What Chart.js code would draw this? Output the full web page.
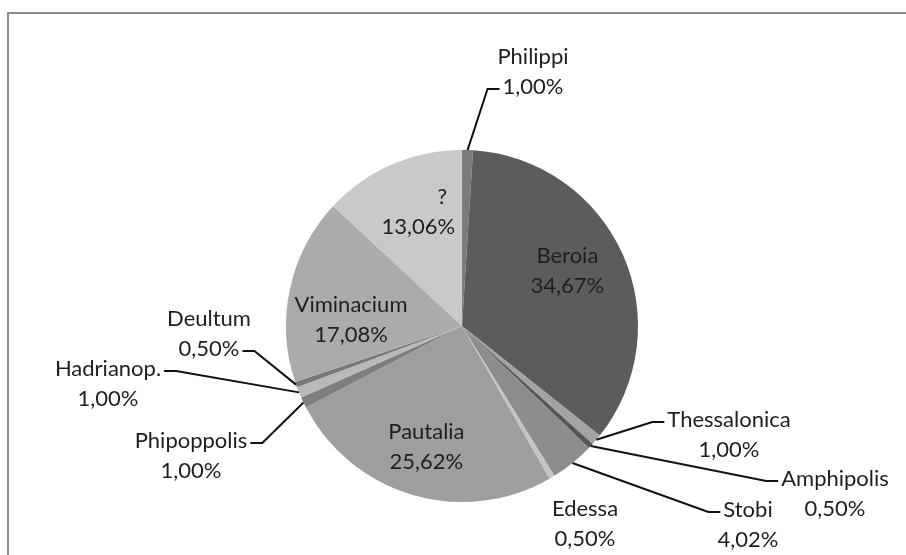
<!DOCTYPE html>
<html>
<head>
<meta charset="utf-8">
<script src="https://cdn.jsdelivr.net/npm/chart.js@4.4.1/dist/chart.umd.min.js"></script>
<style>
    html, body { margin: 0; padding: 0; background: #fff; overflow: hidden; }
    #wrap { position: relative; width: 906px; height: 555px; overflow: hidden; }
    #frame { position: absolute; left: 7px; top: 12px; width: 1000px; height: 1000px;
             border-left: 2px solid #8c8c8c; border-top: 2px solid #8c8c8c; }
    canvas { position: absolute; left: 0; top: 0; }
</style>
</head>
<body>
<div id="wrap">
    <div id="frame"></div>
    <canvas id="pie" width="906" height="555"></canvas>
</div>
<script>
// 1. Données (parts en %)
const cities = ['Philippi', 'Beroia', 'Thessalonica', 'Amphipolis', 'Stobi', 'Edessa',
                'Pautalia', 'Phipoppolis', 'Hadrianop.', 'Deultum', 'Viminacium', '?'];
const shares = [1.00, 34.67, 1.00, 0.50, 4.02, 0.50, 25.62, 1.00, 1.00, 0.50, 17.08, 13.06];
const greys = ['#7b7b7b', '#5c5c5c', '#a3a3a3', '#565656', '#8d8d8d', '#c4c4c4',
               '#9e9e9e', '#7e7e7e', '#b9b9b9', '#777777', '#ababab', '#c9c9c9'];

// 2. Placement des étiquettes (décalages par rapport au centre du camembert)
// inside: étiquette dans la part ; sinon position du 1er texte + ligne de rappel
const labelLayout = [
    { x: 71, y: -269, attach: 1, side: 'left' },      // Philippi
    { inside: true, dx: -4, dy: -6 },                 // Beroia
    { x: 267, y: 94, attach: 0, side: 'left' },       // Thessalonica
    { x: 373, y: 153, attach: 0, side: 'left' },      // Amphipolis
    { x: 286, y: 184, attach: 0, side: 'left' },      // Stobi
    { x: 123, y: 183 },                               // Edessa (pas de ligne)
    { inside: true, dx: -2, dy: 6 },                  // Pautalia
    { x: -271, y: 115, attach: 0, side: 'right' },    // Phipoppolis
    { x: -354, y: 43, attach: 0, side: 'right' },     // Hadrianop.
    { x: -253, y: -7, attach: 1, side: 'right' },     // Deultum
    { inside: true, dx: 6, dy: 19 },                  // Viminacium
    { inside: true, dx: 4, dy: -4, nameShift: 24 }    // ?
];

const FONT = '22px Lato, "Open Sans", sans-serif';
const LINE_H = 30;

function fmt(v) {
    return v.toFixed(2).replace('.', ',') + '%';
}

// 3. Plugin pour les étiquettes et les lignes de rappel
const pieLabels = {
    id: 'pieLabels',
    afterDatasetsDraw(chart) {
        const ctx = chart.ctx;
        const arcs = chart.getDatasetMeta(0).data;
        ctx.save();
        ctx.font = FONT;
        ctx.fillStyle = '#1e1e1e';
        ctx.textAlign = 'center';
        ctx.textBaseline = 'middle';

        arcs.forEach((arc, i) => {
            const p = arc.getProps(['x', 'y', 'startAngle', 'endAngle', 'outerRadius'], true);
            const mid = (p.startAngle + p.endAngle) / 2;
            const lay = labelLayout[i];
            const lines = [cities[i], fmt(shares[i])];

            if (lay.inside) {
                const r = p.outerRadius * 0.68;
                const cx = p.x + Math.cos(mid) * r + (lay.dx || 0);
                const cy = p.y + Math.sin(mid) * r + (lay.dy || 0);
                ctx.fillText(lines[0], cx + (lay.nameShift || 0), cy - LINE_H / 2);
                ctx.fillText(lines[1], cx, cy + LINE_H / 2);
                return;
            }

            const tx = p.x + lay.x;
            const ty = p.y + lay.y;
            ctx.fillText(lines[0], tx, ty);
            ctx.fillText(lines[1], tx, ty + LINE_H);

            if (lay.attach === undefined) return;

            // ligne de rappel : bord de la part -> coude -> texte
            const w = ctx.measureText(lines[lay.attach]).width;
            const ly = ty + lay.attach * LINE_H + 2;
            const dir = lay.side === 'left' ? -1 : 1;
            const edgeX = tx + dir * w / 2;
            const ex = p.x + Math.cos(mid) * p.outerRadius;
            const ey = p.y + Math.sin(mid) * p.outerRadius;

            ctx.beginPath();
            ctx.moveTo(ex, ey);
            ctx.lineTo(edgeX + dir * 15, ly);
            ctx.lineTo(edgeX + dir * 3, ly);
            ctx.strokeStyle = '#111';
            ctx.lineWidth = 2;
            ctx.stroke();
        });
        ctx.restore();
    }
};

// 4. Création du graphique
new Chart(document.getElementById('pie'), {
    type: 'pie',
    data: {
        labels: cities,
        datasets: [{
            data: shares,
            backgroundColor: greys,
            borderWidth: 0
        }]
    },
    options: {
        responsive: false,
        animation: false,
        layout: { padding: { left: 286, right: 268, top: 150, bottom: 53 } },
        plugins: {
            legend: { display: false },
            tooltip: { enabled: false }
        }
    },
    plugins: [pieLabels]
});
</script>
</body>
</html>
